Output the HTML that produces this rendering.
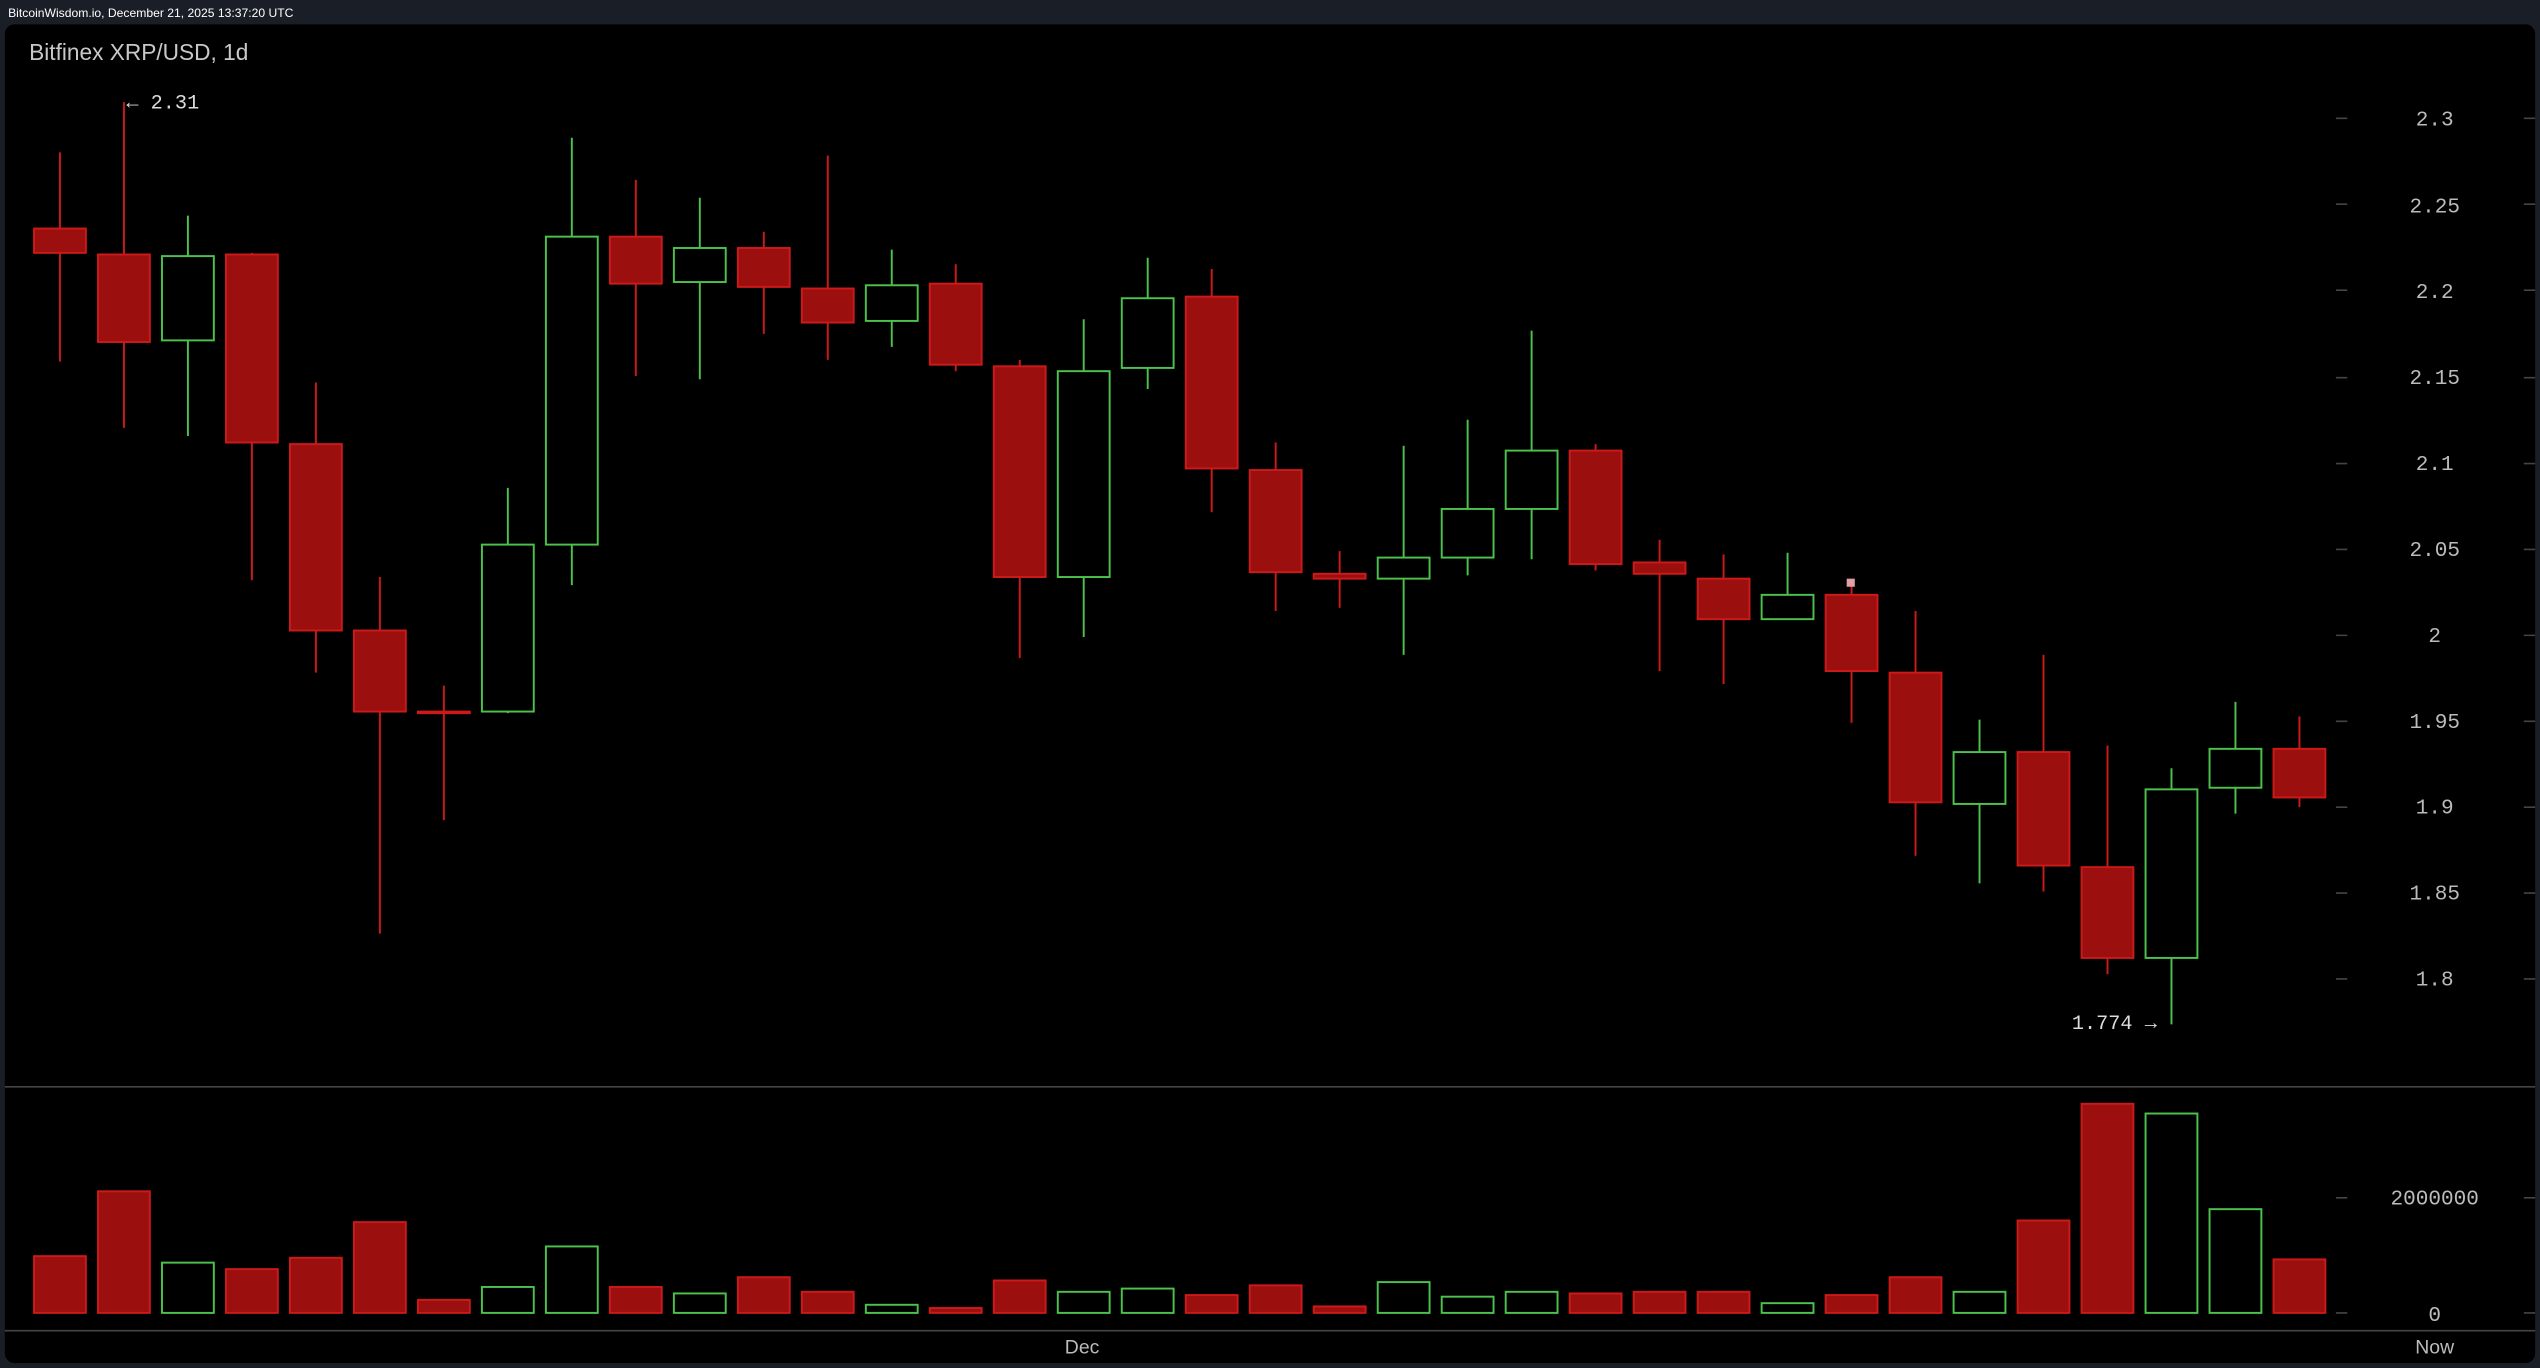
<!DOCTYPE html>
<html><head><meta charset="utf-8"><style>
html,body{margin:0;padding:0;background:#1a1e26;}
svg{display:block}
text{font-family:"Liberation Mono","DejaVu Sans Mono",monospace;}
</style></head><body>
<svg width="2540" height="1368" viewBox="0 0 1568 844" preserveAspectRatio="none" xmlns="http://www.w3.org/2000/svg">
<rect x="0" y="0" width="1568" height="844" fill="#1a1e26"/>
<text x="5" y="10.5" font-size="7.5" fill="#ffffff" style="font-family:'Liberation Sans',sans-serif">BitcoinWisdom.io, December 21, 2025 13:37:20 UTC</text>
<rect x="3" y="15" width="1562" height="826" rx="6" fill="#000"/>
<text x="18" y="37" font-size="14" fill="#c8c8c8" style="font-family:'Liberation Sans',sans-serif">Bitfinex XRP/USD, 1d</text>
<g fill="#bbb" font-size="13" text-anchor="middle">
<text x="1503" y="77.5">2.3</text><text x="1503" y="131">2.25</text><text x="1503" y="184">2.2</text><text x="1503" y="237">2.15</text><text x="1503" y="290">2.1</text><text x="1503" y="343">2.05</text><text x="1503" y="396">2</text><text x="1503" y="449">1.95</text><text x="1503" y="502">1.9</text><text x="1503" y="555">1.85</text><text x="1503" y="608">1.8</text>
<text x="1503" y="743">2000000</text><text x="1503" y="815">0</text>
</g>
<g stroke="#444" stroke-width="1">
<path d="M1442 73h7M1442 126h7M1442 179h7M1442 233h7M1442 286h7M1442 339h7M1442 392h7M1442 445h7M1442 498h7M1442 551h7M1442 604h7M1442 739h7M1442 810h7"/>
<path d="M1558 73h7M1558 126h7M1558 179h7M1558 233h7M1558 286h7M1558 339h7M1558 392h7M1558 445h7M1558 498h7M1558 551h7M1558 604h7M1558 739h7M1558 810h7"/>
<line x1="3" y1="670.5" x2="1565" y2="670.5"/>
<line x1="3" y1="821" x2="1565" y2="821"/>
</g>
<text x="668" y="835" font-size="12" fill="#bbb" text-anchor="middle" style="font-family:'Liberation Sans',sans-serif">Dec</text>
<text x="1503" y="835" font-size="12" fill="#bbb" text-anchor="middle" style="font-family:'Liberation Sans',sans-serif">Now</text>
<text x="78" y="67" font-size="12.5" fill="#ddd">← 2.31</text>
<text x="1279" y="635" font-size="12.5" fill="#ddd">1.774 →</text>
<g stroke-width="1.2">
<g stroke="#cc1a1a" fill="#9b0f0f">
<line x1="37" y1="94" x2="37" y2="223"/><rect x="21" y="141" width="32" height="15"/>
<line x1="76.5" y1="63" x2="76.5" y2="264"/><rect x="60.5" y="157" width="32" height="54"/>
<line x1="155.5" y1="156" x2="155.5" y2="358"/><rect x="139.5" y="157" width="32" height="116"/>
<line x1="195" y1="236" x2="195" y2="415"/><rect x="179" y="274" width="32" height="115"/>
<line x1="234.5" y1="356" x2="234.5" y2="576"/><rect x="218.5" y="389" width="32" height="50"/>
<line x1="274" y1="423" x2="274" y2="506"/><rect x="258" y="439" width="32" height="1"/>
<line x1="392.5" y1="111" x2="392.5" y2="232"/><rect x="376.5" y="146" width="32" height="29"/>
<line x1="471.5" y1="143" x2="471.5" y2="206"/><rect x="455.5" y="153" width="32" height="24"/>
<line x1="511" y1="96" x2="511" y2="222"/><rect x="495" y="178" width="32" height="21"/>
<line x1="590" y1="163" x2="590" y2="229"/><rect x="574" y="175" width="32" height="50"/>
<line x1="629.5" y1="222" x2="629.5" y2="406"/><rect x="613.5" y="226" width="32" height="130"/>
<line x1="748" y1="166" x2="748" y2="316"/><rect x="732" y="183" width="32" height="106"/>
<line x1="787.5" y1="273" x2="787.5" y2="377"/><rect x="771.5" y="290" width="32" height="63"/>
<line x1="827" y1="340" x2="827" y2="375"/><rect x="811" y="354" width="32" height="3"/>
<line x1="985" y1="274" x2="985" y2="352"/><rect x="969" y="278" width="32" height="70"/>
<line x1="1024.5" y1="333" x2="1024.5" y2="414"/><rect x="1008.5" y="347" width="32" height="7"/>
<line x1="1064" y1="342" x2="1064" y2="422"/><rect x="1048" y="357" width="32" height="25"/>
<line x1="1143" y1="359" x2="1143" y2="446"/><rect x="1127" y="367" width="32" height="47"/>
<line x1="1182.5" y1="377" x2="1182.5" y2="528"/><rect x="1166.5" y="415" width="32" height="80"/>
<line x1="1261.5" y1="404" x2="1261.5" y2="550"/><rect x="1245.5" y="464" width="32" height="70"/>
<line x1="1301" y1="460" x2="1301" y2="601"/><rect x="1285" y="535" width="32" height="56"/>
<line x1="1419.5" y1="442" x2="1419.5" y2="498"/><rect x="1403.5" y="462" width="32" height="30"/>
</g>
<rect x="1140" y="357" width="5" height="5" fill="#e0a0a8"/>
<g stroke="#4cc24c" fill="#000">
<line x1="116" y1="133" x2="116" y2="269"/><rect x="100" y="158" width="32" height="52"/>
<line x1="313.5" y1="301" x2="313.5" y2="440"/><rect x="297.5" y="336" width="32" height="103"/>
<line x1="353" y1="85" x2="353" y2="361"/><rect x="337" y="146" width="32" height="190"/>
<line x1="432" y1="122" x2="432" y2="234"/><rect x="416" y="153" width="32" height="21"/>
<line x1="550.5" y1="154" x2="550.5" y2="214"/><rect x="534.5" y="176" width="32" height="22"/>
<line x1="669" y1="197" x2="669" y2="393"/><rect x="653" y="229" width="32" height="127"/>
<line x1="708.5" y1="159" x2="708.5" y2="240"/><rect x="692.5" y="184" width="32" height="43"/>
<line x1="866.5" y1="275" x2="866.5" y2="404"/><rect x="850.5" y="344" width="32" height="13"/>
<line x1="906" y1="259" x2="906" y2="355"/><rect x="890" y="314" width="32" height="30"/>
<line x1="945.5" y1="204" x2="945.5" y2="345"/><rect x="929.5" y="278" width="32" height="36"/>
<line x1="1103.5" y1="341" x2="1103.5" y2="382"/><rect x="1087.5" y="367" width="32" height="15"/>
<line x1="1222" y1="444" x2="1222" y2="545"/><rect x="1206" y="464" width="32" height="32"/>
<line x1="1340.5" y1="474" x2="1340.5" y2="632"/><rect x="1324.5" y="487" width="32" height="104"/>
<line x1="1380" y1="433" x2="1380" y2="502"/><rect x="1364" y="462" width="32" height="24"/>
</g>
<g stroke="#cc1a1a" fill="#9b0f0f">
<rect x="21" y="775" width="32" height="35"/>
<rect x="60.5" y="735" width="32" height="75"/>
<rect x="139.5" y="783" width="32" height="27"/>
<rect x="179" y="776" width="32" height="34"/>
<rect x="218.5" y="754" width="32" height="56"/>
<rect x="258" y="802" width="32" height="8"/>
<rect x="376.5" y="794" width="32" height="16"/>
<rect x="455.5" y="788" width="32" height="22"/>
<rect x="495" y="797" width="32" height="13"/>
<rect x="574" y="807" width="32" height="3"/>
<rect x="613.5" y="790" width="32" height="20"/>
<rect x="732" y="799" width="32" height="11"/>
<rect x="771.5" y="793" width="32" height="17"/>
<rect x="811" y="806" width="32" height="4"/>
<rect x="969" y="798" width="32" height="12"/>
<rect x="1008.5" y="797" width="32" height="13"/>
<rect x="1048" y="797" width="32" height="13"/>
<rect x="1127" y="799" width="32" height="11"/>
<rect x="1166.5" y="788" width="32" height="22"/>
<rect x="1245.5" y="753" width="32" height="57"/>
<rect x="1285" y="681" width="32" height="129"/>
<rect x="1403.5" y="777" width="32" height="33"/>
</g>
<g stroke="#4cc24c" fill="#000">
<rect x="100" y="779" width="32" height="31"/>
<rect x="297.5" y="794" width="32" height="16"/>
<rect x="337" y="769" width="32" height="41"/>
<rect x="416" y="798" width="32" height="12"/>
<rect x="534.5" y="805" width="32" height="5"/>
<rect x="653" y="797" width="32" height="13"/>
<rect x="692.5" y="795" width="32" height="15"/>
<rect x="850.5" y="791" width="32" height="19"/>
<rect x="890" y="800" width="32" height="10"/>
<rect x="929.5" y="797" width="32" height="13"/>
<rect x="1087.5" y="804" width="32" height="6"/>
<rect x="1206" y="797" width="32" height="13"/>
<rect x="1324.5" y="687" width="32" height="123"/>
<rect x="1364" y="746" width="32" height="64"/>
</g>
</g>
</svg>
</body></html>
